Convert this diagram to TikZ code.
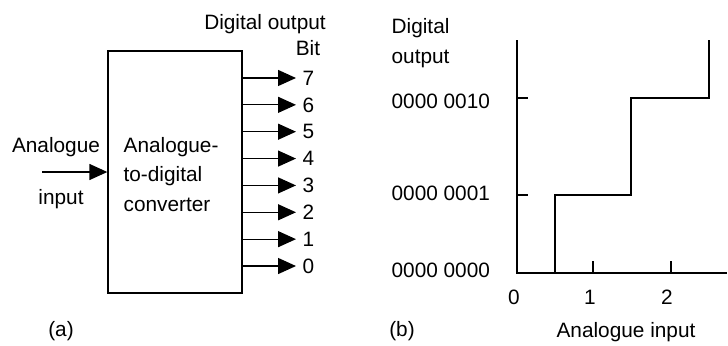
\documentclass[tikz,border=0pt]{standalone}
\usepackage{fontspec}
\setmainfont{Liberation Sans}
\usetikzlibrary{arrows.meta,positioning}

\begin{document}
\begin{tikzpicture}[x=0.5pt, y=-0.5pt, line width=0.65pt,
    every node/.style={font=\fontsize{10.4}{12}\selectfont, inner sep=0pt},
    tip/.style={-{Triangle[length=9pt,width=8pt]}}]
    \useasboundingbox (0,0) rectangle (728,345);

    % (a) converter block
    \node[draw, minimum width=67pt, minimum height=121pt] (adc) at (175,172) {};
    \node[anchor=base west] (adcline1) at (123,152) {Analogue-};
    \node[anchor=base west] (adcline2) at (123,181) {to-digital};
    \node[anchor=base west] (adcline3) at (123,211) {converter};

    % input side
    \coordinate (ain) at (42,172);
    \node[anchor=base] (inlabel) at (56,152) {Analogue};
    \node[anchor=base] (inlabel2) at (61,204) {input};
    \draw[tip] (ain) -- (adc.west);

    % output bits
    \node[anchor=base] (outhead) at (265,29) {Digital output};
    \node[anchor=base] (bithead) at (308,55) {Bit};
    \foreach \b in {0,...,7} {
        \node[anchor=west] (bit\b) at (302,{266-26.86*\b}) {\b};
        \draw[tip, shorten >=3pt] (adc.east |- bit\b) -- (bit\b.west);
    }
    \node[anchor=base] (capa) at (61,336) {(a)};

    % (b) transfer characteristic
    \coordinate (orig) at (517,273);
    \coordinate (ytop) at (517,40);
    \coordinate (xend) at (727,273);
    \draw (ytop) -- (orig) -- (xend);
    \foreach \x in {593,671} \draw (\x,273) -- (\x,261);
    \foreach \y in {195,98} \draw (517,\y) -- (528,\y);
    \draw (555,273) -- (555,195) -- (631,195) -- (631,98) -- (709,98) -- (709,40);

    \node[anchor=base west] (ylab1) at (391,33) {Digital};
    \node[anchor=base west] (ylab2) at (391,63) {output};
    \node[anchor=base west] (code2) at (391,108) {0000 0010};
    \node[anchor=base west] (code1) at (391,200) {0000 0001};
    \node[anchor=base west] (code0) at (391,277) {0000 0000};
    \node[anchor=base] (xval0) at (514,304) {0};
    \node[anchor=base] (xval1) at (590,304) {1};
    \node[anchor=base] (xval2) at (667,304) {2};
    \node[anchor=base] (xlab) at (626,337) {Analogue input};
    \node[anchor=base] (capb) at (402,336) {(b)};
\end{tikzpicture}
\end{document}
